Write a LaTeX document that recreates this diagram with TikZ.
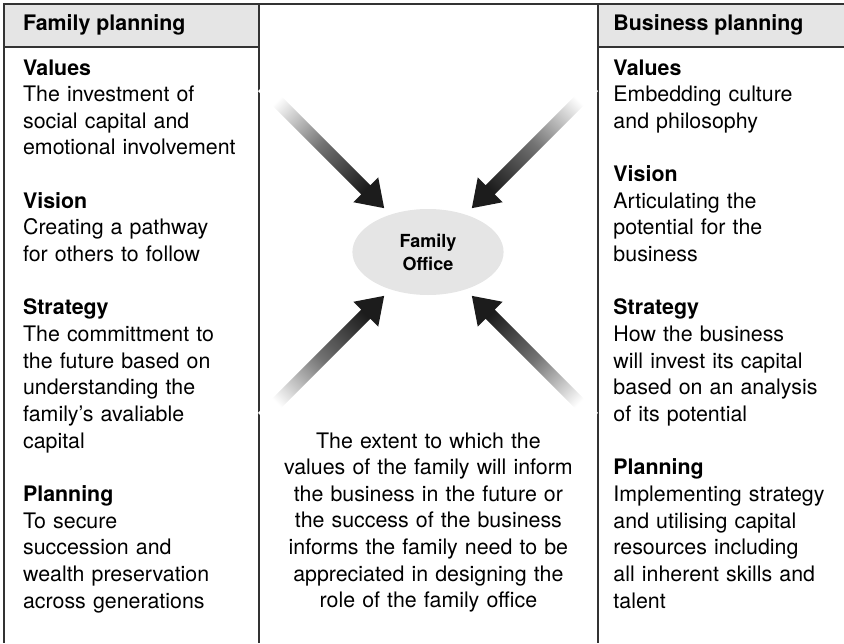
\documentclass[tikz,border=0pt]{standalone}
\usepackage{fontspec}
\setmainfont{TeX Gyre Heros}
\usepackage{tikz}
\usetikzlibrary{shapes.geometric, calc}
\usepackage{xcolor}
\definecolor{panelgrey}{RGB}{229, 229, 229}
\definecolor{inkgrey}{RGB}{28, 28, 28}

% fat shaded arrow from a free end (#1) towards a node (#2), #3 = shading angle
\newcommand{\fatarrow}[3]{%
  \path ($(#2.center)!1.55cm!(#1)$) coordinate (tip)
        ($(#2.center)!2.2cm!(#1)$) coordinate (neck);
  \shade[top color=white, bottom color=inkgrey, middle color=black!55, shading angle=#3]
    ($(#1)!0.16cm!90:(tip)$) -- ($(neck)!0.16cm!-90:(#1)$)
    -- ($(neck)!0.44cm!-90:(#1)$) -- (tip)
    -- ($(neck)!0.44cm!90:(#1)$) -- ($(neck)!0.16cm!90:(#1)$)
    -- ($(#1)!0.16cm!-90:(tip)$) -- cycle;
}

\begin{document}
\begin{tikzpicture}[
    rule/.style={draw=black!80, line width=0.9pt},
    heading/.style={font=\fontsize{15.2pt}{19pt}\selectfont\bfseries, inner sep=0pt, anchor=base west},
    column/.style={font=\fontsize{15.2pt}{18.96pt}\selectfont, text width=5.8cm, align=left, inner sep=0pt, anchor=base west},
    office/.style={ellipse, fill=panelgrey, minimum width=3.78cm, minimum height=2.15cm, inner sep=0pt, align=center, font=\fontsize{12.8pt}{16.4pt}\selectfont\bfseries}
]
    \useasboundingbox (0,0) rectangle (21.1,-16.075);

    % Panels
    \fill[panelgrey] (0.1,-0.1) rectangle (6.475,-1.175);
    \fill[panelgrey] (14.95,-0.1) rectangle (21.1,-1.175);
    \draw[rule] (21.1,-0.1) -- (0.1,-0.1) -- (0.1,-16.075);
    \draw[rule] (6.475,-0.1) -- (6.475,-16.075);
    \draw[rule] (14.95,-0.1) -- (14.95,-16.075);
    \draw[rule] (0.1,-1.175) -- (6.475,-1.175);
    \draw[rule] (14.95,-1.175) -- (21.1,-1.175);

    % Headings
    \node[heading] (famhead) at (0.57,-0.77) {Family planning};
    \node[heading] (bushead) at (15.33,-0.77) {Business planning};

    % Columns
    \node[column] (famtext) at (0.57,-1.875) {\textbf{Values}\\The investment of\\social capital and\\emotional involvement\\[\baselineskip]
        \textbf{Vision}\\Creating a pathway\\for others to follow\\[\baselineskip]
        \textbf{Strategy}\\The committment to\\the future based on\\understanding the\\family’s avaliable\\capital\\[\baselineskip]
        \textbf{Planning}\\To secure\\succession and\\wealth preservation\\across generations};
    \node[column] (bustext) at (15.33,-1.875) {\textbf{Values}\\Embedding culture\\and philosophy\\[\baselineskip]
        \textbf{Vision}\\Articulating the\\potential for the\\business\\[\baselineskip]
        \textbf{Strategy}\\How the business\\will invest its capital\\based on an analysis\\of its potential\\[\baselineskip]
        \textbf{Planning}\\Implementing strategy\\and utilising capital\\resources including\\all inherent skills and\\talent};

    % Centre
    \node[office] (office) at (10.7,-6.3) {Family\\Office};
    \node[column, text width=8cm, align=center, anchor=base] (note) at (10.71,-11.2) {The extent to which the\\values of the family will inform\\the business in the future or\\the success of the business\\informs the family need to be\\appreciated in designing the\\role of the family office};

    % Arrows
    \coordinate (nw) at ($(office.center)+(135:5.85)$);
    \coordinate (ne) at ($(office.center)+(45:5.85)$);
    \coordinate (sw) at ($(office.center)+(225:5.85)$);
    \coordinate (se) at ($(office.center)+(315:5.85)$);
    \fatarrow{nw}{office}{45}
    \fatarrow{ne}{office}{-45}
    \fatarrow{sw}{office}{135}
    \fatarrow{se}{office}{-135}
\end{tikzpicture}
\end{document}
